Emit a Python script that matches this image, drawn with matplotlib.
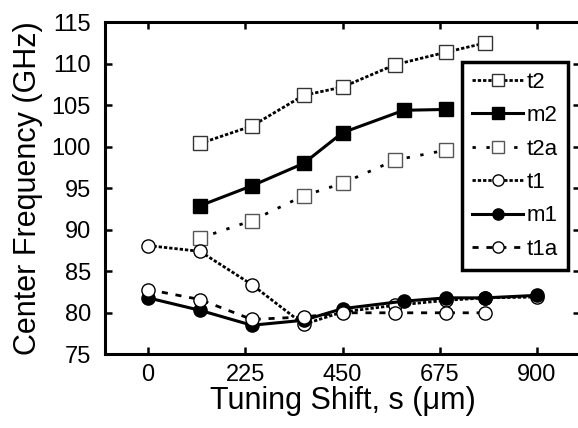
import matplotlib
matplotlib.use("Agg")
import matplotlib.pyplot as plt

plt.rcParams['font.family'] = ['Liberation Sans', 'DejaVu Sans']

# Data
t2_x = [120, 240, 360, 450, 572, 690, 780]
t2_y = [100.4, 102.5, 106.2, 107.2, 109.9, 111.4, 112.5]
m2_x = [120, 240, 360, 450, 592, 690]
m2_y = [92.9, 95.3, 98.0, 101.7, 104.4, 104.5]
t2a_x = [120, 240, 360, 450, 572, 690]
t2a_y = [89.0, 91.1, 94.1, 95.6, 98.4, 99.6]
t1_x = [0, 120, 240, 360, 450, 572, 690, 780, 900]
t1_y = [88.1, 87.4, 83.4, 78.6, 80.1, 80.9, 81.5, 81.8, 81.9]
m1_x = [0, 120, 240, 360, 450, 592, 690, 780, 900]
m1_y = [81.8, 80.3, 78.5, 79.1, 80.5, 81.4, 81.8, 81.8, 82.1]
t1a_x = [0, 120, 240, 360, 450, 572, 690, 780]
t1a_y = [82.8, 81.6, 79.2, 79.5, 80.0, 80.0, 80.0, 80.0]

x_ticks = [0, 225, 450, 675, 900]
y_ticks = [75, 80, 85, 90, 95, 100, 105, 110, 115]

fig = plt.figure(figsize=(5.78, 4.28), dpi=100)
ax = fig.add_axes([105/578, (428-354.3)/428, 475/578, 332/428])

lw_solid = 2.2
lw_dot = 2.0
ms_sq = 9.5
ms_c = 9.5

ax.plot(t2_x, t2_y, color='black', lw=lw_dot, dashes=(1.2, 0.7),
        marker='s', ms=ms_sq, mfc='white', mec='#333333', mew=1.0, label='t2')
ax.plot(m2_x, m2_y, color='black', lw=lw_solid, ls='-',
        marker='s', ms=ms_sq, mfc='black', mec='black', label='m2')
ax.plot(t2a_x, t2a_y, color='black', lw=lw_dot, dashes=(1.2, 3.8),
        marker='s', ms=ms_sq, mfc='white', mec='#555555', mew=1.0, label='t2a')
ax.plot(t1_x, t1_y, color='black', lw=lw_dot, dashes=(1.2, 0.7),
        marker='o', ms=ms_c, mfc='white', mec='black', mew=1.0, label='t1')
ax.plot(m1_x, m1_y, color='black', lw=lw_solid, ls='-',
        marker='o', ms=ms_c, mfc='black', mec='black', label='m1')
ax.plot(t1a_x, t1a_y, color='black', lw=lw_dot, dashes=(2.2, 2.8),
        marker='o', ms=ms_c, mfc='white', mec='black', mew=1.0, label='t1a')

ax.set_xlim(-100, 1000)
ax.set_ylim(75, 115)
ax.set_xticks(x_ticks)
ax.set_yticks(y_ticks)
ax.tick_params(direction='in', length=5, width=1.8, top=True, right=True,
               labelsize=17)
ax.tick_params(axis='x', pad=7)
ax.tick_params(axis='y', pad=10)
for s in ax.spines.values():
    s.set_linewidth(2.2)

ax.set_xlabel('Tuning Shift, s (\u03bcm)', fontsize=22, labelpad=0)
ax.set_ylabel('Center Frequency (GHz)', fontsize=22, labelpad=6)

leg = ax.legend(loc='upper right', bbox_to_anchor=(568/578, 1 - 61.7/428),
                bbox_transform=fig.transFigure, fontsize=16, frameon=True,
                fancybox=False, edgecolor='black', framealpha=1,
                handlelength=2.3, handletextpad=0.15, labelspacing=0.56,
                borderpad=0.45, borderaxespad=0, markerscale=0.85)
leg.get_frame().set_linewidth(2.5)

fig.savefig('out.png', dpi=100)
